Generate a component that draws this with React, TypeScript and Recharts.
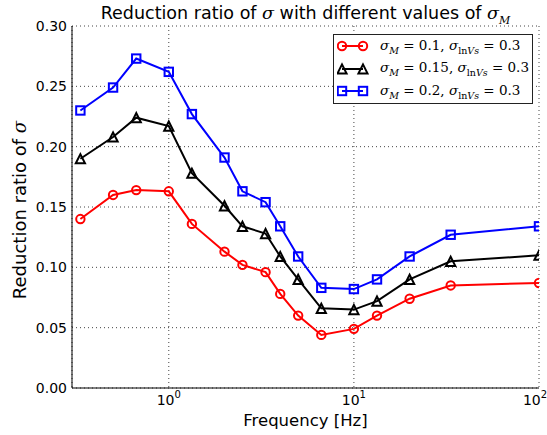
import {
  CartesianGrid,
  Label,
  Legend,
  Line,
  LineChart,
  XAxis,
  YAxis,
} from "recharts";

// frequencies (Hz) of the computed points
const freqs = [0.333, 0.5, 0.667, 1, 1.333, 2, 2.5, 3.333, 4, 5, 6.667, 10, 13.33, 20, 33.33, 100];

// reduction ratio of sigma per sigma_M case
const ratioM010 = [0.14, 0.16, 0.164, 0.163, 0.136, 0.113, 0.102, 0.096, 0.078, 0.06, 0.044, 0.049, 0.06, 0.074, 0.085, 0.087];
const ratioM015 = [0.19, 0.208, 0.224, 0.217, 0.178, 0.151, 0.134, 0.128, 0.109, 0.09, 0.066, 0.065, 0.072, 0.09, 0.105, 0.11];
const ratioM020 = [0.23, 0.249, 0.273, 0.262, 0.227, 0.191, 0.163, 0.154, 0.134, 0.109, 0.083, 0.082, 0.09, 0.109, 0.127, 0.134];

const xMajorTicks = [1, 10, 100];
const xMinorTicks = [0.4, 0.5, 0.6, 0.7, 0.8, 0.9, 2, 3, 4, 5, 6, 7, 8, 9, 20, 30, 40, 50, 60, 70, 80, 90];
const yTicks = [0, 0.05, 0.1, 0.15, 0.2, 0.25, 0.3];

const data = freqs.map((f, i) => ({
  f,
  m010: ratioM010[i],
  m015: ratioM015[i],
  m020: ratioM020[i],
}));

const SANS = "'DejaVu Sans', sans-serif";
const SERIF = "'DejaVu Serif', 'Liberation Serif', serif";

type MarkerKind = "circle" | "triangle" | "square";

function Marker({ kind, cx, cy, color }: { kind: MarkerKind; cx: number; cy: number; color: string }) {
  if (kind === "circle") {
    return <circle cx={cx} cy={cy} r={4.2} fill="none" stroke={color} strokeWidth={2} />;
  }
  if (kind === "square") {
    return <rect x={cx - 4.2} y={cy - 4.2} width={8.4} height={8.4} fill="none" stroke={color} strokeWidth={2} />;
  }
  const s = 4.6;
  return (
    <polygon
      points={`${cx},${cy - s} ${cx - s},${cy + s} ${cx + s},${cy + s}`}
      fill="none"
      stroke={color}
      strokeWidth={2}
    />
  );
}

function dotOf(kind: MarkerKind, color: string) {
  return (props: any) => (
    <Marker key={`${kind}-${props.index}`} kind={kind} cx={props.cx} cy={props.cy} color={color} />
  );
}

const series = [
  { key: "m010", color: "#ff0000", kind: "circle" as MarkerKind, sm: "0.1" },
  { key: "m015", color: "#000000", kind: "triangle" as MarkerKind, sm: "0.15" },
  { key: "m020", color: "#0000ff", kind: "square" as MarkerKind, sm: "0.2" },
];

function LegendBox() {
  return (
    <div
      style={{
        border: "1px solid #222",
        background: "#fff",
        padding: "0 3px",
        width: 200,
        boxSizing: "border-box",
      }}
    >
      {series.map((s) => (
        <div key={s.key} style={{ display: "flex", alignItems: "center", height: 22.5 }}>
          <svg width={32} height={16} style={{ flex: "none" }}>
            <line x1={5} y1={8} x2={26} y2={8} stroke={s.color} strokeWidth={2} />
            <Marker kind={s.kind} cx={5} cy={8} color={s.color} />
            <Marker kind={s.kind} cx={26} cy={8} color={s.color} />
          </svg>
          <span style={{ fontFamily: SERIF, fontSize: 13.5, marginLeft: 11, whiteSpace: "nowrap" }}>
            <i>σ</i>
            <sub style={{ fontSize: 9.5, fontStyle: "italic" }}>M</sub>
            {` = ${s.sm}, `}
            <i>σ</i>
            <sub style={{ fontSize: 9.5 }}>
              ln<i>Vs</i>
            </sub>
            {" = 0.3"}
          </span>
        </div>
      ))}
    </div>
  );
}

function XTick({ x, y, payload }: any) {
  const exp = Math.round(Math.log10(payload.value));
  return (
    <text x={x} y={y + 17} textAnchor="middle" fontFamily={SANS} fontSize={14} fill="#000">
      10
      <tspan dy={-7} fontSize={10}>
        {exp}
      </tspan>
    </text>
  );
}

function XTitle({ viewBox }: any) {
  const cx = viewBox.x + viewBox.width / 2;
  return (
    <text x={cx} y={viewBox.y + 38} textAnchor="middle" fontFamily={SANS} fontSize={16.5} fill="#000">
      Frequency [Hz]
    </text>
  );
}

function YTitle({ viewBox }: any) {
  const cy = viewBox.y + viewBox.height / 2 + 3;
  return (
    <text
      transform={`translate(26,${cy}) rotate(-90)`}
      textAnchor="middle"
      fontFamily={SANS}
      fontSize={18}
      fill="#000"
    >
      Reduction ratio of{" "}
      <tspan fontFamily={SERIF} fontStyle="italic">
        σ
      </tspan>
    </text>
  );
}

const noTick = () => <g />;

export default function App() {
  return (
    <div style={{ position: "absolute", left: 0, top: 0, width: 547, height: 435, background: "#fff" }}>
      <div
        style={{
          position: "absolute",
          left: 72,
          width: 467,
          top: 3,
          textAlign: "center",
          fontFamily: SANS,
          fontSize: 17.5,
          lineHeight: "20px",
          whiteSpace: "nowrap",
        }}
      >
        Reduction ratio of <i style={{ fontFamily: SERIF }}>σ</i> with different values of{" "}
        <i style={{ fontFamily: SERIF }}>σ</i>
        <sub style={{ fontFamily: SERIF, fontStyle: "italic", fontSize: 11, lineHeight: 0 }}>M</sub>
      </div>
      <LineChart width={547} height={435} data={data} margin={{ top: 26, right: 8, bottom: 0, left: 0 }}>
        <CartesianGrid xAxisId="main" yAxisId="main" stroke="#444" strokeDasharray="1 3" />
        <XAxis
          xAxisId="main"
          dataKey="f"
          type="number"
          scale="log"
          domain={[0.3, 100]}
          allowDataOverflow
          ticks={xMajorTicks}
          tick={XTick}
          tickLine={false}
          tickSize={0}
          tickMargin={0}
          axisLine={{ stroke: "#000" }}
          height={47}
        >
          <Label content={XTitle} />
        </XAxis>
        <XAxis xAxisId="bMaj" dataKey="f" type="number" scale="log" domain={[0.3, 100]} allowDataOverflow
          ticks={xMajorTicks} tick={noTick} tickSize={6} mirror height={0} axisLine={false} tickLine={{ stroke: "#000" }} />
        <XAxis xAxisId="bMin" dataKey="f" type="number" scale="log" domain={[0.3, 100]} allowDataOverflow
          ticks={xMinorTicks} tick={noTick} tickSize={3} mirror height={0} axisLine={false} tickLine={{ stroke: "#000" }} />
        <XAxis xAxisId="tMaj" orientation="top" dataKey="f" type="number" scale="log" domain={[0.3, 100]} allowDataOverflow
          ticks={xMajorTicks} tick={noTick} tickSize={6} mirror height={0} axisLine={{ stroke: "#000" }} tickLine={{ stroke: "#000" }} />
        <XAxis xAxisId="tMin" orientation="top" dataKey="f" type="number" scale="log" domain={[0.3, 100]} allowDataOverflow
          ticks={xMinorTicks} tick={noTick} tickSize={3} mirror height={0} axisLine={false} tickLine={{ stroke: "#000" }} />
        <YAxis
          yAxisId="main"
          type="number"
          domain={[0, 0.3]}
          ticks={yTicks}
          tickFormatter={(v: number) => v.toFixed(2)}
          tick={{ fontFamily: SANS, fontSize: 14, fill: "#000" }}
          tickLine={false}
          tickSize={0}
          tickMargin={5}
          axisLine={{ stroke: "#000" }}
          width={72}
        >
          <Label content={YTitle} />
        </YAxis>
        <YAxis yAxisId="lMaj" type="number" domain={[0, 0.3]} ticks={yTicks} tick={noTick} tickSize={5}
          mirror width={0} axisLine={false} tickLine={{ stroke: "#000" }} />
        <YAxis yAxisId="rMaj" orientation="right" type="number" domain={[0, 0.3]} ticks={yTicks} tick={noTick} tickSize={5}
          mirror width={0} axisLine={{ stroke: "#000" }} tickLine={{ stroke: "#000" }} />
        <Legend
          layout="horizontal"
          verticalAlign="middle"
          align="center"
          wrapperStyle={{ left: 333, top: 34, width: 200 }}
          content={() => <LegendBox />}
        />
        {series.map((s) => (
          <Line
            key={s.key}
            xAxisId="main"
            yAxisId="main"
            dataKey={s.key}
            stroke={s.color}
            strokeWidth={2}
            dot={dotOf(s.kind, s.color)}
            activeDot={false}
            isAnimationActive={false}
          />
        ))}
      </LineChart>
    </div>
  );
}
